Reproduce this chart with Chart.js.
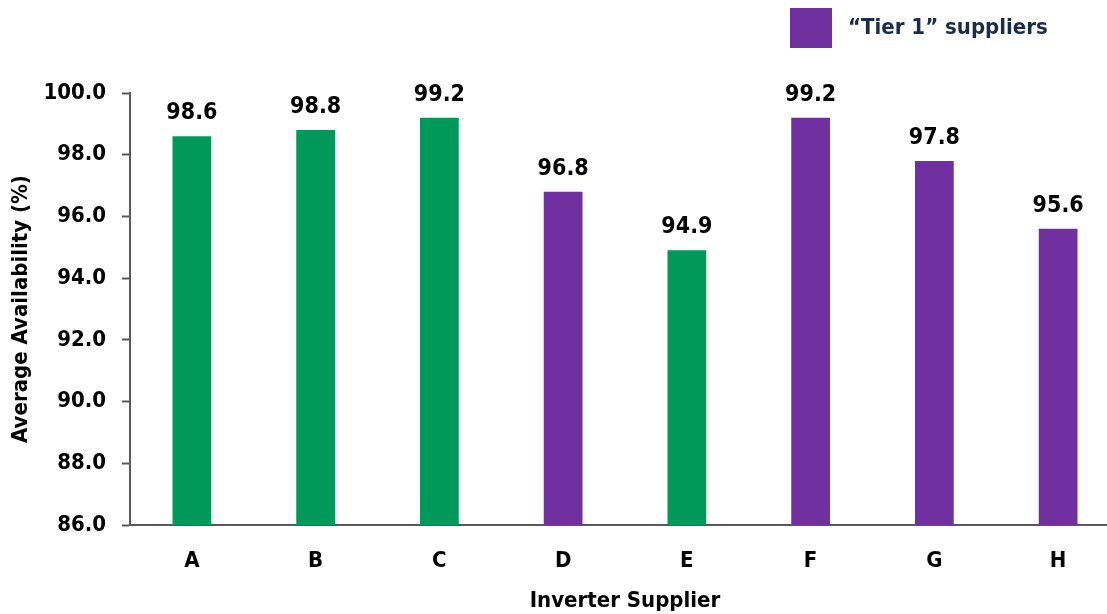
<!DOCTYPE html>
<html>
<head>
<meta charset="utf-8">
<script src="https://cdn.jsdelivr.net/npm/chart.js@4.4.1/dist/chart.umd.min.js"></script>
<style>
  html, body { margin: 0; padding: 0; background: #fff; overflow: hidden; }
  #wrap { width: 1120px; height: 614px; }
</style>
</head>
<body>
<div id="wrap"><canvas id="availability-chart" width="1120" height="614"></canvas></div>
<script>
// Data til grafen
var suppliers = ["A", "B", "C", "D", "E", "F", "G", "H"];
var availability = [98.6, 98.8, 99.2, 96.8, 94.9, 99.2, 97.8, 95.6];
var tier1 = [false, false, false, true, false, true, true, true];
var yTicks = [86, 88, 90, 92, 94, 96, 98, 100];

var GREEN = "#00995A";
var PURPLE = "#7030A0";
var FONT = "'DejaVu Sans Condensed', 'DejaVu Sans', sans-serif";

var barColors = tier1.map(function (t) { return t ? PURPLE : GREEN; });

// Værdier over søjlerne
var valueLabels = {
    id: 'valueLabels',
    afterDatasetsDraw: function (chart) {
        var ctx = chart.ctx;
        var meta = chart.getDatasetMeta(0);
        ctx.save();
        ctx.font = "bold 23px " + FONT;
        ctx.fillStyle = "#000";
        ctx.textAlign = "center";
        ctx.textBaseline = "alphabetic";
        meta.data.forEach(function (bar, i) {
            ctx.fillText(availability[i].toFixed(1), bar.x, bar.y - 17);
        });
        ctx.restore();
    }
};

// Forklaring oppe i hjørnet
var tierLegend = {
    id: 'tierLegend',
    afterDraw: function (chart, args, opts) {
        var ctx = chart.ctx;
        ctx.save();
        ctx.fillStyle = PURPLE;
        ctx.fillRect(opts.x, opts.y, 42, 40);
        ctx.font = "bold 22px " + FONT;
        ctx.fillStyle = "#1B2D4A";
        ctx.textAlign = "left";
        ctx.textBaseline = "alphabetic";
        ctx.fillText(opts.text, opts.x + 58, opts.y + 26);
        ctx.restore();
    }
};

var options = {
    responsive: false,
    animation: false,
    layout: { padding: { top: 93, left: 0, right: 0, bottom: 0 } },
    plugins: {
        legend: { display: false },
        tooltip: { enabled: false },
        tierLegend: { x: 790, y: 8, text: "\u201CTier 1\u201D suppliers" }
    },
    scales: {
        x: {
            grid: { display: false, drawTicks: false },
            border: { color: "#595959", width: 2 },
            ticks: {
                color: "#000",
                padding: 23,
                font: { family: FONT, size: 22, weight: "bold" }
            },
            title: {
                display: true,
                text: "Inverter Supplier",
                color: "#000",
                padding: { top: 12, bottom: 0 },
                font: { family: FONT, size: 22, weight: "bold" }
            },
            afterFit: function (scale) { scale.height = 89; }
        },
        y: {
            min: 86,
            max: 100,
            afterBuildTicks: function (scale) {
                scale.ticks = yTicks.map(function (v) { return { value: v }; });
            },
            grid: {
                drawOnChartArea: false,
                drawTicks: true,
                tickLength: 8,
                tickWidth: 2,
                color: "#595959"
            },
            border: { color: "#595959", width: 2 },
            ticks: {
                color: "#000",
                padding: 16,
                font: { family: FONT, size: 22, weight: "bold" },
                callback: function (v) { return Number(v).toFixed(1); }
            },
            title: {
                display: true,
                text: "Average Availability (%)",
                color: "#000",
                padding: { top: 8, bottom: 0 },
                font: { family: FONT, size: 22, weight: "bold" }
            },
            afterFit: function (scale) { scale.width = 130; }
        }
    }
};

var ctx = document.getElementById('availability-chart').getContext('2d');
var availabilityChart = new Chart(ctx, {
    type: 'bar',
    data: {
        labels: suppliers,
        datasets: [{
            label: "Average Availability (%)",
            data: availability,
            backgroundColor: barColors,
            borderWidth: 0,
            categoryPercentage: 1,
            barPercentage: 0.313
        }]
    },
    options: options,
    plugins: [valueLabels, tierLegend]
});
</script>
</body>
</html>
